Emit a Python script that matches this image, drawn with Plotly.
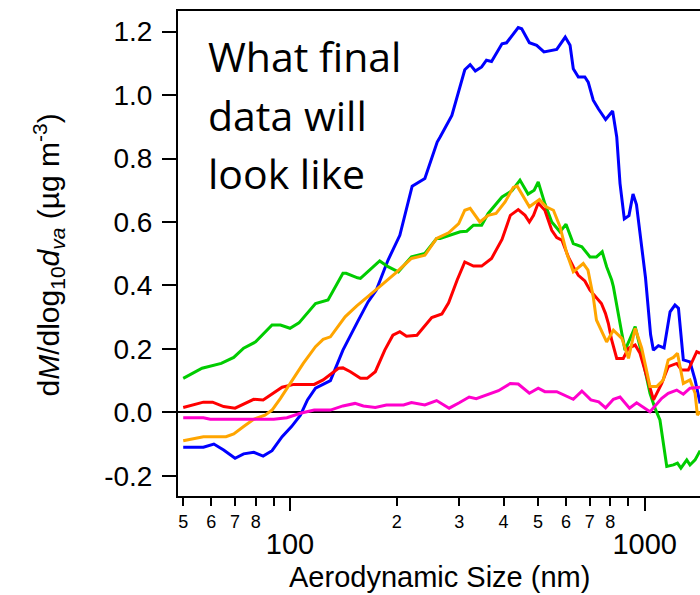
import plotly.graph_objects as go

# ---------------- data ----------------
blue_x = [50, 57, 61, 65, 70, 74, 79, 84, 89, 95, 101, 107, 112, 118, 130, 141, 155, 166, 175, 189,
          204, 221, 240, 260, 265, 286, 311, 322, 333, 347, 358, 370, 396, 408, 440, 450, 473, 496,
          520, 553, 565, 597, 616, 629, 650, 678, 693, 716, 740, 776, 812, 834, 852, 876, 903, 927,
          948, 1005, 1039, 1058, 1093, 1134, 1179, 1217, 1245, 1285, 1342, 1387, 1433]
blue_y = [-0.110, -0.110, -0.100, -0.119, -0.145, -0.131, -0.126, -0.138, -0.121, -0.077, -0.045, -0.009,
          0.039, 0.076, 0.100, 0.196, 0.285, 0.348, 0.385, 0.480, 0.558, 0.713, 0.737, 0.852, 0.868,
          0.936, 1.080, 1.096, 1.076, 1.089, 1.110, 1.106, 1.162, 1.165, 1.213, 1.209, 1.165, 1.157,
          1.136, 1.141, 1.144, 1.183, 1.157, 1.083, 1.057, 1.057, 1.041, 0.984, 0.957, 0.923, 0.950,
          0.868, 0.721, 0.610, 0.620, 0.688, 0.655, 0.425, 0.245, 0.196, 0.210, 0.203, 0.317, 0.338,
          0.328, 0.165, 0.159, 0.102, 0.028]

green_x = [50, 56.5, 64, 69.4, 74, 80, 89, 94, 100, 106, 118, 128, 141, 144, 155, 158, 179, 189, 202,
           220, 240, 259, 265, 282, 302, 315, 329, 347, 362, 396, 422, 445, 469, 488, 501, 523, 547,
           577, 600, 629, 665, 701, 731, 759, 781, 807, 816, 862, 880, 914, 940, 970, 1002, 1035,
           1069, 1104, 1154, 1205, 1237, 1265, 1314, 1342, 1387, 1433]
green_y = [0.107, 0.139, 0.154, 0.173, 0.202, 0.222, 0.275, 0.275, 0.265, 0.282, 0.343, 0.354, 0.438,
           0.438, 0.424, 0.422, 0.477, 0.459, 0.443, 0.490, 0.501, 0.548, 0.548, 0.558, 0.569, 0.571,
           0.590, 0.590, 0.627, 0.679, 0.698, 0.732, 0.688, 0.700, 0.726, 0.658, 0.600, 0.569, 0.593,
           0.532, 0.522, 0.490, 0.490, 0.506, 0.459, 0.417, 0.396, 0.249, 0.196, 0.238, 0.270, 0.207,
           0.133, 0.060, 0.013, -0.024, -0.171, -0.166, -0.160, -0.176, -0.150, -0.166, -0.150, -0.121]

red_x = [50, 57, 60.5, 65, 70, 74, 79, 84, 90, 95, 102.5, 117, 124, 137, 141, 148, 158, 165, 174, 185,
         195, 204, 213, 228, 251, 268, 280, 296, 311, 329, 347, 370, 396, 418, 440, 460, 473, 486,
         501, 523, 547, 565, 584, 609, 629, 650, 678, 701, 755, 775, 790, 807, 834, 870, 900, 940,
         970, 1013, 1059, 1117, 1165, 1231, 1270, 1327, 1402, 1433]
red_y = [0.015, 0.032, 0.032, 0.018, 0.013, 0.026, 0.041, 0.039, 0.062, 0.079, 0.088, 0.088, 0.102,
         0.139, 0.140, 0.128, 0.107, 0.107, 0.128, 0.196, 0.243, 0.254, 0.240, 0.243, 0.299, 0.310,
         0.345, 0.417, 0.474, 0.461, 0.461, 0.485, 0.545, 0.621, 0.639, 0.621, 0.600, 0.621, 0.660,
         0.637, 0.574, 0.551, 0.543, 0.490, 0.459, 0.432, 0.414, 0.385, 0.343, 0.312, 0.280, 0.228,
         0.170, 0.170, 0.202, 0.212, 0.186, 0.112, 0.039, 0.091, 0.144, 0.154, 0.133, 0.133, 0.191,
         0.186]

orange_x = [50, 57, 66, 69.4, 74, 79, 85, 89, 94, 101, 109, 118, 124, 130, 135.5, 143, 154, 166, 179,
            198, 220, 240, 259, 280, 299, 311, 322, 343, 362, 381, 404, 426, 437, 473, 505, 527, 553,
            577, 603, 629, 671, 692, 716, 731, 756, 781, 816, 862, 900, 940, 981, 1035, 1081, 1128,
            1165, 1205, 1237, 1285, 1342, 1387, 1408, 1433]
orange_y = [-0.090, -0.077, -0.077, -0.068, -0.045, -0.022, -0.009, 0.007, 0.044, 0.096, 0.154, 0.207,
            0.230, 0.238, 0.265, 0.301, 0.335, 0.364, 0.396, 0.438, 0.485, 0.495, 0.548, 0.566, 0.595,
            0.637, 0.643, 0.600, 0.621, 0.627, 0.663, 0.709, 0.713, 0.648, 0.671, 0.648, 0.637, 0.585,
            0.501, 0.443, 0.469, 0.448, 0.364, 0.291, 0.254, 0.222, 0.259, 0.233, 0.170, 0.265, 0.202,
            0.081, 0.081, 0.102, 0.165, 0.173, 0.186, 0.091, 0.102, 0.060, -0.009, 0.002]

magenta_x = [50, 57, 59.6, 90, 98, 107, 117, 130, 141, 152.5, 161, 174, 187, 209, 220, 240, 259, 265,
             281, 300, 320, 335, 358, 387, 418, 440, 473, 501, 523, 565, 629, 665, 705, 742, 776,
             816, 852, 906, 949, 1035, 1117, 1165, 1231, 1285, 1342, 1433]
magenta_y = [-0.017, -0.017, -0.022, -0.022, -0.017, -0.003, 0.007, 0.007, 0.020, 0.028, 0.020, 0.015,
             0.023, 0.023, 0.031, 0.023, 0.037, 0.030, 0.013, 0.030, 0.048, 0.043, 0.054, 0.068, 0.091,
             0.089, 0.060, 0.076, 0.065, 0.065, 0.041, 0.067, 0.039, 0.033, 0.014, 0.041, 0.048, 0.013,
             0.030, 0.002, 0.044, 0.060, 0.070, 0.057, 0.076, 0.079]

series = [
    (blue_x, blue_y, "#0000FF"),
    (green_x, green_y, "#00CC00"),
    (red_x, red_y, "#FF0000"),
    (orange_x, orange_y, "#FFA500"),
    (magenta_x, magenta_y, "#FF00CC"),
]

minor_tickvals = [50, 60, 70, 80, 90, 200, 300, 400, 500, 600, 700, 800, 900]
minor_ticktext = ["5", "6", "7", "8", "", "2", "3", "4", "5", "6", "7", "8", ""]
major_tickvals = [100, 1000]
major_ticktext = ["100", "1000"]
y_tickvals = [-0.2, 0.0, 0.2, 0.4, 0.6, 0.8, 1.0, 1.2]
y_ticktext = ["-0.2", "0.0", "0.2", "0.4", "0.6", "0.8", "1.0", "1.2"]

note_lines = ["What final", "data will", "look like"]

# ---------------- figure ----------------
AX_FONT = "Liberation Sans, Arial, sans-serif"
fig = go.Figure()
for xs, ys, col in series:
    fig.add_trace(go.Scatter(x=xs, y=ys, mode="lines", line=dict(color=col, width=3),
                             showlegend=False, hoverinfo="skip"))
# empty trace to activate the secondary (major-tick) x axis
fig.add_trace(go.Scatter(x=[100, 1000], y=[None, None], xaxis="x2", showlegend=False,
                         hoverinfo="skip"))

xr = [1.68424, 3.15591]
fig.update_layout(
    width=700, height=595,
    margin=dict(l=178, r=0, t=11, b=99),
    paper_bgcolor="white", plot_bgcolor="white",
    xaxis=dict(type="log", range=xr, showgrid=False, zeroline=False,
               showline=True, linecolor="black", linewidth=2, mirror=True,
               ticks="outside", ticklen=8, tickwidth=2, tickcolor="black",
               tickmode="array", tickvals=minor_tickvals, ticktext=minor_ticktext,
               tickfont=dict(family=AX_FONT, size=18, color="black")),
    xaxis2=dict(type="log", range=xr, overlaying="x", anchor="y", side="bottom",
                showgrid=False, zeroline=False, showline=False,
                ticks="outside", ticklen=14, tickwidth=2, tickcolor="black",
                tickmode="array", tickvals=major_tickvals, ticktext=major_ticktext,
                ticklabelstandoff=8,
                tickfont=dict(family=AX_FONT, size=29, color="black")),
    yaxis=dict(range=[-0.2639, 1.2652], showgrid=False,
               zeroline=True, zerolinecolor="black", zerolinewidth=2,
               showline=True, linecolor="black", linewidth=2, mirror=False,
               ticks="outside", ticklen=14, tickwidth=2, tickcolor="black",
               tickmode="array", tickvals=y_tickvals, ticktext=y_ticktext,
               ticklabelstandoff=4,
               tickfont=dict(family=AX_FONT, size=28, color="black")),
)

fig.add_annotation(text="Aerodynamic Size (nm)", xref="paper", yref="paper",
                   x=0.5, y=-0.168, xanchor="center", yanchor="middle", showarrow=False,
                   font=dict(family=AX_FONT, size=29, color="black"))
fig.add_annotation(text="d<i>M</i>/dlog<sub>10</sub><i>d</i><sub><i>va</i></sub> (µg m<sup>-3</sup>)",
                   xref="paper", yref="paper", x=-0.248, y=0.497, textangle=-90,
                   xanchor="center", yanchor="middle", showarrow=False,
                   font=dict(family=AX_FONT, size=30, color="black"))

note_y = [0.9068, 0.7852, 0.6664]
for line, yy in zip(note_lines, note_y):
    fig.add_annotation(text=line, xref="paper", yref="paper", x=0.053, y=yy,
                       xanchor="left", yanchor="middle", showarrow=False,
                       font=dict(family="Open Sans, sans-serif", size=41, color="black"))

fig.write_html("out.html")
